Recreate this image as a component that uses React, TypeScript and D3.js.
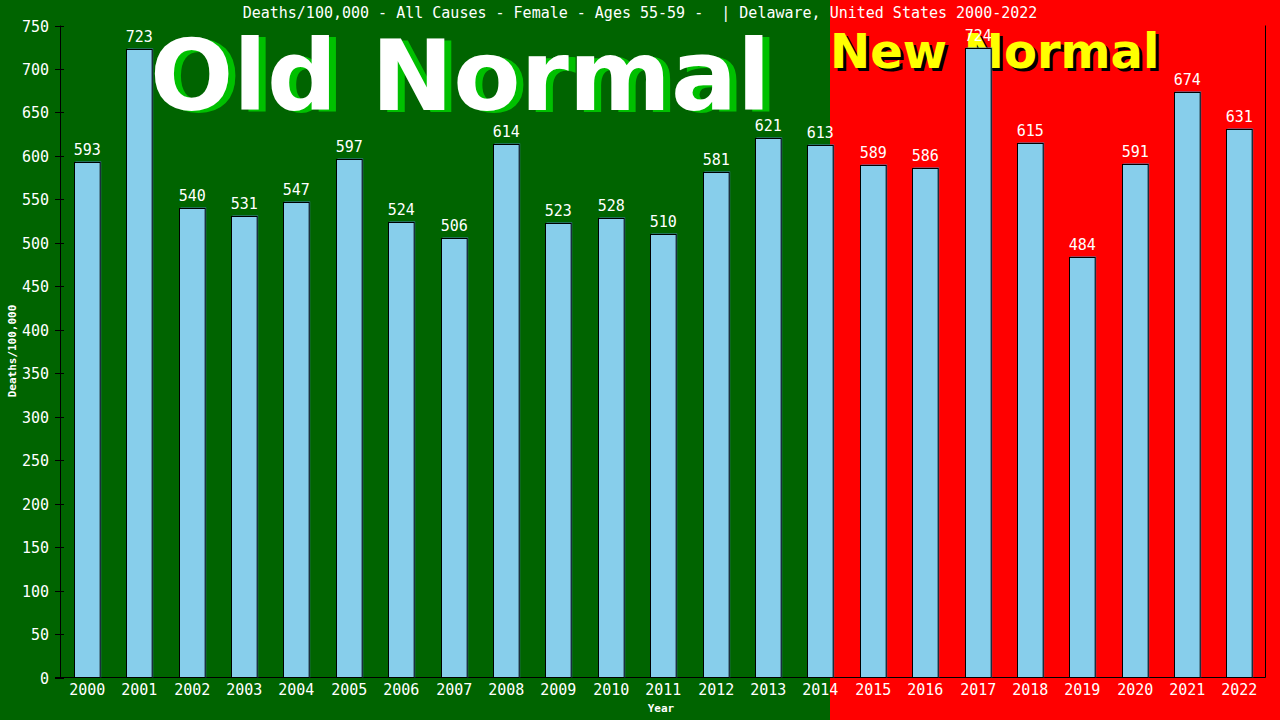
import React, { useEffect, useRef } from "react";
import * as d3 from "d3";

const years = [
  "2000", "2001", "2002", "2003", "2004", "2005", "2006", "2007", "2008", "2009", "2010", "2011",
  "2012", "2013", "2014", "2015", "2016", "2017", "2018", "2019", "2020", "2021", "2022",
];
const deaths = [
  593, 723, 540, 531, 547, 597, 524, 506, 614, 523, 528, 510,
  581, 621, 613, 589, 586, 724, 615, 484, 591, 674, 631,
];
const yTicks = d3.range(0, 751, 50);
const title = "Deaths/100,000 - All Causes - Female - Ages 55-59 -  | Delaware, United States 2000-2022";

const W = 1280;
const H = 720;
const mono = "'DejaVu Sans Mono', monospace";

const App: React.FC = () => {
  const svgRef = useRef<SVGSVGElement | null>(null);

  useEffect(() => {
    if (!svgRef.current) return;
    const svg = d3.select(svgRef.current);
    svg.selectAll("*").remove();

    const left = 60.5;
    const right = 1265.5;
    const top = 25.5;
    const bottom = 677.5;
    const split = 830;

    const x = d3.scaleBand<string>().domain(years).range([left, right]).paddingInner(0.51).paddingOuter(0.255);
    const y = d3.scaleLinear().domain([0, 750]).range([bottom, top]);

    // backgrounds
    svg.append("rect").attr("x", 0).attr("y", 0).attr("width", split).attr("height", H).attr("fill", "#006400");
    svg.append("rect").attr("x", split).attr("y", 0).attr("width", W - split).attr("height", H).attr("fill", "#ff0000");

    // big labels
    const big = svg.append("g").attr("font-family", "'DejaVu Sans', sans-serif").attr("font-weight", "bold");
    big.append("text").attr("x", 157).attr("y", 112).attr("font-size", 98).attr("fill", "#00c000").text("Old Normal");
    big.append("text").attr("x", 150).attr("y", 110).attr("font-size", 98).attr("fill", "#ffffff").text("Old Normal");
    big.append("text").attr("x", 833).attr("y", 71).attr("font-size", 48).attr("fill", "#000000").text("New Normal");
    big.append("text").attr("x", 830).attr("y", 68).attr("font-size", 48).attr("fill", "#ffff00").text("New Normal");

    // title
    svg.append("text").attr("x", 640).attr("y", 18).attr("text-anchor", "middle")
      .attr("font-family", mono).attr("font-size", 15).attr("fill", "#fff")
      .style("white-space", "pre").text(title);

    // axes
    svg.append("line").attr("x1", left).attr("x2", left).attr("y1", top).attr("y2", bottom).attr("stroke", "#000");
    svg.append("line").attr("x1", right).attr("x2", right).attr("y1", top).attr("y2", bottom).attr("stroke", "#000");
    svg.append("line").attr("x1", 55).attr("x2", right).attr("y1", bottom).attr("y2", bottom).attr("stroke", "#000");

    const yt = svg.append("g");
    yTicks.forEach((t) => {
      const yy = Math.round(y(t)) + 0.5;
      yt.append("line").attr("x1", 55).attr("x2", 64).attr("y1", yy).attr("y2", yy).attr("stroke", "#000");
      yt.append("text").attr("x", 49).attr("y", yy).attr("dy", "0.35em").attr("text-anchor", "end")
        .attr("font-family", mono).attr("font-size", 15).attr("fill", "#fff").text(t);
    });

    // bars
    const bw = x.bandwidth();
    const bars = svg.append("g");
    years.forEach((yr, i) => {
      const bx = Math.round(x(yr) as number) + 0.5;
      const by = Math.round(y(deaths[i])) + 0.5;
      const bh = bottom - by;
      bars.append("rect").attr("x", bx + 1).attr("y", by - 1).attr("width", bw).attr("height", bh + 1)
        .attr("fill", "#4682b4");
      bars.append("rect").attr("x", bx).attr("y", by).attr("width", bw).attr("height", bh)
        .attr("fill", "#87ceeb").attr("stroke", "#000").attr("stroke-width", 1);
      bars.append("text").attr("x", bx + bw / 2).attr("y", by - 8).attr("text-anchor", "middle")
        .attr("font-family", mono).attr("font-size", 15).attr("fill", "#fff").text(deaths[i]);
      bars.append("text").attr("x", bx + bw / 2).attr("y", 695).attr("text-anchor", "middle")
        .attr("font-family", mono).attr("font-size", 15).attr("fill", "#fff").text(yr);
    });

    // axis titles
    svg.append("text").attr("x", 661).attr("y", 712).attr("text-anchor", "middle")
      .attr("font-family", mono).attr("font-weight", "bold").attr("font-size", 11).attr("fill", "#fff").text("Year");
    svg.append("text").attr("transform", "translate(16,351) rotate(-90)").attr("text-anchor", "middle")
      .attr("font-family", mono).attr("font-weight", "bold").attr("font-size", 11).attr("fill", "#fff").text("Deaths/100,000");
  }, []);

  return <svg ref={svgRef} width={W} height={H} style={{ display: "block", position: "absolute", left: 0, top: 0 }} />;
};

export default App;
